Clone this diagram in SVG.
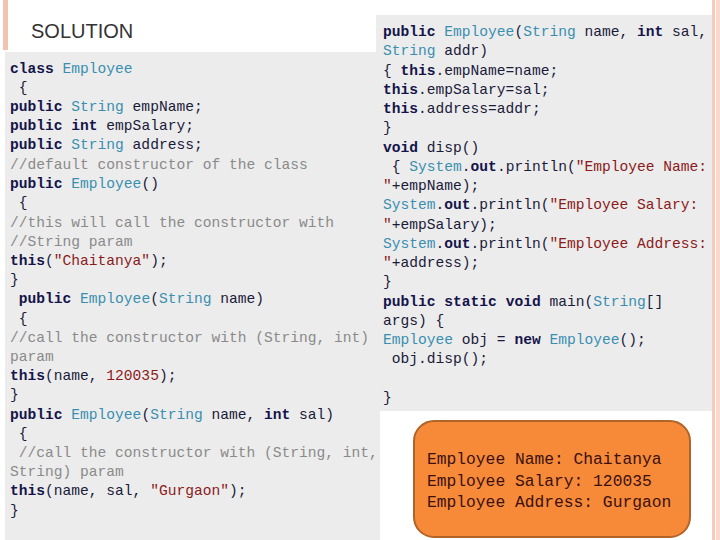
<svg xmlns="http://www.w3.org/2000/svg" width="720" height="540" viewBox="0 0 720 540">
<style>
.c{font-family:"Liberation Mono","DejaVu Sans Mono",monospace;font-size:14.6px;fill:#1a1a3a;white-space:pre}
.k{fill:#14144a;font-weight:bold}
.t{fill:#3a8fb0}
.m{fill:#8a8a8a}
.s{fill:#8b1a1a}
.o{font-family:"Liberation Mono","DejaVu Sans Mono",monospace;font-size:16.3px;fill:#3a1010;white-space:pre}
</style>
<rect width="720" height="540" fill="#ffffff"/>
<rect x="3" y="0" width="5" height="50" fill="#f3c2b0"/>
<rect x="712" y="0" width="3" height="540" fill="#f8c8b8"/>
<rect x="716" y="0" width="4" height="540" fill="#fbd8cc"/>
<g id="title"><text x="31" y="38" style="font-family:'Liberation Sans',Arial,sans-serif;font-size:20px;fill:#333">SOLUTION</text></g>
<g id="left-code">
<rect x="5" y="52" width="375" height="488" fill="#ececec"/>
<text class="c" x="10" y="73"><tspan class="k">class</tspan> <tspan class="t">Employee</tspan></text>
<text class="c" x="10" y="92"> {</text>
<text class="c" x="10" y="111"><tspan class="k">public</tspan> <tspan class="t">String</tspan> empName;</text>
<text class="c" x="10" y="130"><tspan class="k">public</tspan> <tspan class="k">int</tspan> empSalary;</text>
<text class="c" x="10" y="149"><tspan class="k">public</tspan> <tspan class="t">String</tspan> address;</text>
<text class="c m" x="10" y="169">//default constructor of the class</text>
<text class="c" x="10" y="188"><tspan class="k">public</tspan> <tspan class="t">Employee</tspan>()</text>
<text class="c" x="10" y="207"> {</text>
<text class="c m" x="10" y="227">//this will call the constructor with</text>
<text class="c m" x="10" y="246">//String param</text>
<text class="c" x="10" y="265"><tspan class="k">this</tspan>(<tspan class="s">"Chaitanya"</tspan>);</text>
<text class="c" x="10" y="284">}</text>
<text class="c" x="10" y="303"> <tspan class="k">public</tspan> <tspan class="t">Employee</tspan>(<tspan class="t">String</tspan> name)</text>
<text class="c" x="10" y="323"> {</text>
<text class="c m" x="10" y="342">//call the constructor with (String, int)</text>
<text class="c m" x="10" y="361">param</text>
<text class="c" x="10" y="380"><tspan class="k">this</tspan>(name, <tspan class="s">120035</tspan>);</text>
<text class="c" x="10" y="399">}</text>
<text class="c" x="10" y="419"><tspan class="k">public</tspan> <tspan class="t">Employee</tspan>(<tspan class="t">String</tspan> name, <tspan class="k">int</tspan> sal)</text>
<text class="c" x="10" y="438"> {</text>
<text class="c m" x="10" y="457"> //call the constructor with (String, int,</text>
<text class="c m" x="10" y="476">String) param</text>
<text class="c" x="10" y="495"><tspan class="k">this</tspan>(name, sal, <tspan class="s">"Gurgaon"</tspan>);</text>
<text class="c" x="10" y="515">}</text>
</g>
<g id="right-code">
<rect x="376" y="15" width="336" height="396" fill="#ececec"/>
<text class="c" x="383" y="36"><tspan class="k">public</tspan> <tspan class="t">Employee</tspan>(<tspan class="t">String</tspan> name, <tspan class="k">int</tspan> sal,</text>
<text class="c" x="383" y="55"><tspan class="t">String</tspan> addr)</text>
<text class="c" x="383" y="75">{ <tspan class="k">this</tspan>.empName=name;</text>
<text class="c" x="383" y="94"><tspan class="k">this</tspan>.empSalary=sal;</text>
<text class="c" x="383" y="113"><tspan class="k">this</tspan>.address=addr;</text>
<text class="c" x="383" y="132">}</text>
<text class="c" x="383" y="152"><tspan class="k">void</tspan> disp()</text>
<text class="c" x="383" y="171"> { <tspan class="t">System</tspan>.<tspan class="k">out</tspan>.println(<tspan class="s">"Employee Name:</tspan></text>
<text class="c" x="383" y="190"><tspan class="s">"</tspan>+empName);</text>
<text class="c" x="383" y="209"><tspan class="t">System</tspan>.<tspan class="k">out</tspan>.println(<tspan class="s">"Employee Salary:</tspan></text>
<text class="c" x="383" y="229"><tspan class="s">"</tspan>+empSalary);</text>
<text class="c" x="383" y="248"><tspan class="t">System</tspan>.<tspan class="k">out</tspan>.println(<tspan class="s">"Employee Address:</tspan></text>
<text class="c" x="383" y="267"><tspan class="s">"</tspan>+address);</text>
<text class="c" x="383" y="286">}</text>
<text class="c" x="383" y="306"><tspan class="k">public</tspan> <tspan class="k">static</tspan> <tspan class="k">void</tspan> main(<tspan class="t">String</tspan>[]</text>
<text class="c" x="383" y="325">args) {</text>
<text class="c" x="383" y="344"><tspan class="t">Employee</tspan> obj = <tspan class="k">new</tspan> <tspan class="t">Employee</tspan>();</text>
<text class="c" x="383" y="363"> obj.disp();</text>
<text class="c" x="383" y="402">}</text>
</g>
<g id="output">
<rect x="414" y="421" width="276" height="116" rx="20" fill="#f68a38" stroke="#b0642a" stroke-width="2"/>
<text class="o" x="427" y="464">Employee Name: Chaitanya</text>
<text class="o" x="427" y="486">Employee Salary: 120035</text>
<text class="o" x="427" y="507">Employee Address: Gurgaon</text>
</g>
</svg>
